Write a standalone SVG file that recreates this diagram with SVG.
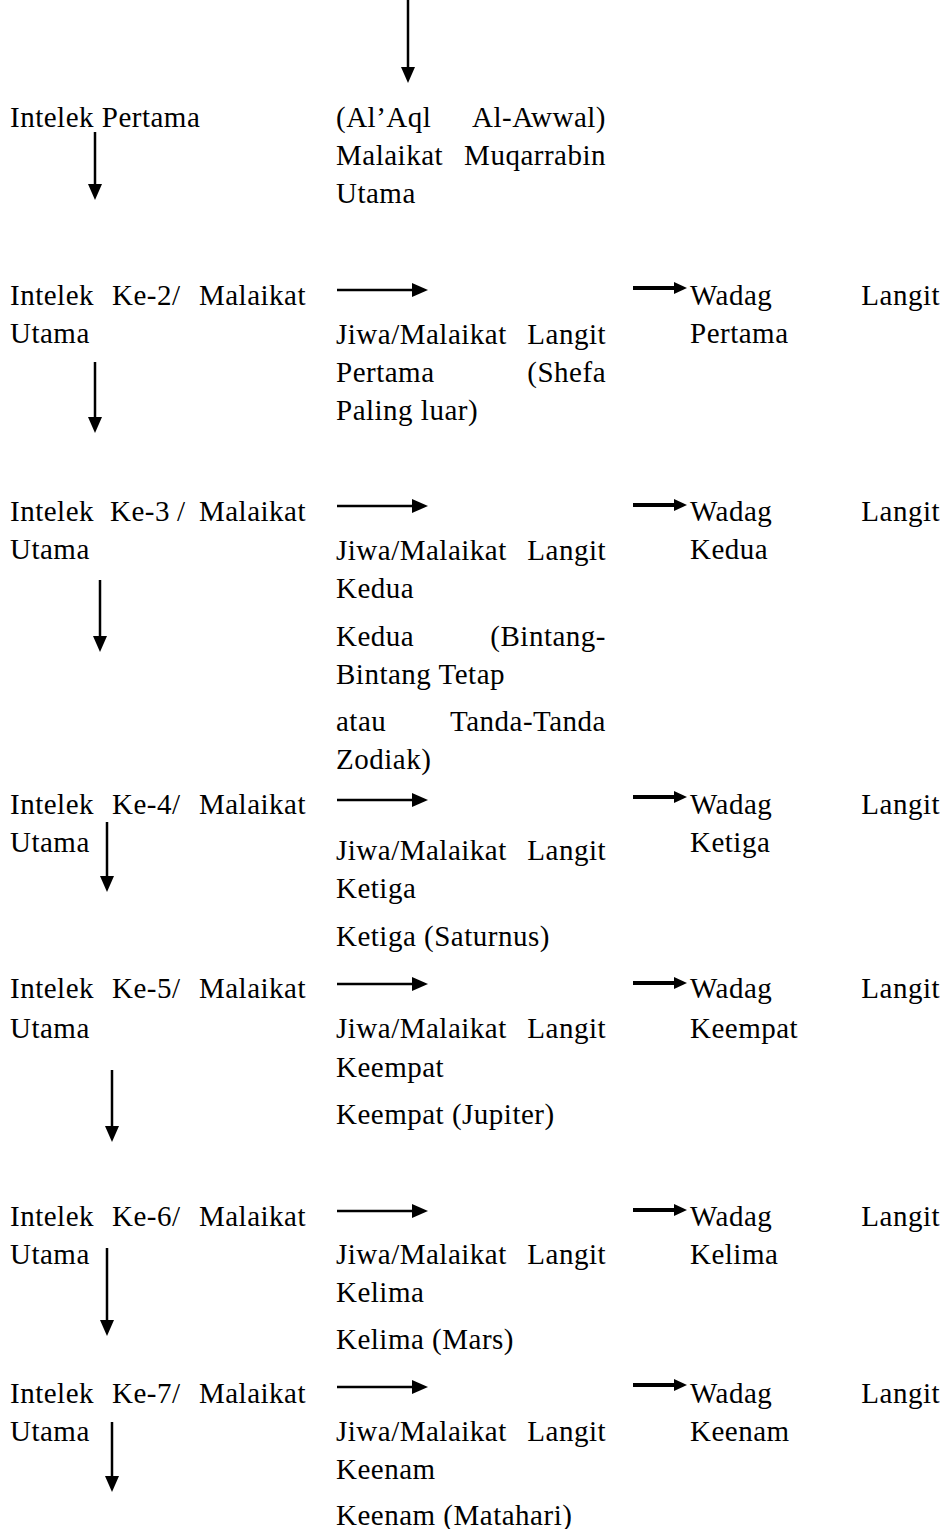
<svg xmlns="http://www.w3.org/2000/svg" width="945" height="1529" viewBox="0 0 945 1529">
  <style>
    .t { font-family: "Liberation Serif", "Times New Roman", serif; font-size: 29px; fill: #000; letter-spacing: 0.5px; }
    .e { text-anchor: end; }
    .ln { stroke: #000; stroke-width: 2.5; fill: none; }
    .lnb { stroke: #000; stroke-width: 4; fill: none; }
  </style>
  <defs>
    <marker id="ah" viewBox="0 0 16 14" refX="8" refY="7" markerWidth="16" markerHeight="14" markerUnits="userSpaceOnUse" orient="auto">
      <path d="M0,0 L16,7 L0,14 Z" fill="#000"/>
    </marker>
    <marker id="ahs" viewBox="0 0 13 12" refX="6" refY="6" markerWidth="13" markerHeight="12" markerUnits="userSpaceOnUse" orient="auto">
      <path d="M0,0 L13,6 L0,12 Z" fill="#000"/>
    </marker>
  </defs>
  <rect width="945" height="1529" fill="#fff"/>

  <!-- connectors -->
  <g id="connectors">
    <!-- incoming arrow at the top -->
    <line class="ln" x1="408" y1="0" x2="408" y2="75" marker-end="url(#ah)"/>
    <!-- vertical arrows down the intellect column -->
    <line class="ln" x1="95" y1="132" x2="95" y2="192" marker-end="url(#ah)"/>
    <line class="ln" x1="95" y1="362" x2="95" y2="425" marker-end="url(#ah)"/>
    <line class="ln" x1="100" y1="580" x2="100" y2="644" marker-end="url(#ah)"/>
    <line class="ln" x1="107" y1="822" x2="107" y2="884" marker-end="url(#ah)"/>
    <line class="ln" x1="112" y1="1070" x2="112" y2="1134" marker-end="url(#ah)"/>
    <line class="ln" x1="107" y1="1248" x2="107" y2="1328" marker-end="url(#ah)"/>
    <line class="ln" x1="112" y1="1422" x2="112" y2="1484" marker-end="url(#ah)"/>
    <!-- intellect to soul -->
    <line class="ln" x1="337" y1="290" x2="420" y2="290" marker-end="url(#ah)"/>
    <line class="ln" x1="337" y1="506" x2="420" y2="506" marker-end="url(#ah)"/>
    <line class="ln" x1="337" y1="800" x2="420" y2="800" marker-end="url(#ah)"/>
    <line class="ln" x1="337" y1="984" x2="420" y2="984" marker-end="url(#ah)"/>
    <line class="ln" x1="337" y1="1211" x2="420" y2="1211" marker-end="url(#ah)"/>
    <line class="ln" x1="337" y1="1387" x2="420" y2="1387" marker-end="url(#ah)"/>
    <!-- soul to body -->
    <line class="lnb" x1="633" y1="288" x2="680" y2="288" marker-end="url(#ahs)"/>
    <line class="lnb" x1="633" y1="505" x2="680" y2="505" marker-end="url(#ahs)"/>
    <line class="lnb" x1="633" y1="797" x2="680" y2="797" marker-end="url(#ahs)"/>
    <line class="lnb" x1="633" y1="983" x2="680" y2="983" marker-end="url(#ahs)"/>
    <line class="lnb" x1="633" y1="1210" x2="680" y2="1210" marker-end="url(#ahs)"/>
    <line class="lnb" x1="633" y1="1385" x2="680" y2="1385" marker-end="url(#ahs)"/>
  </g>

  <!-- intellect column -->
  <g id="intelek-1">
    <text class="t" x="10" y="127">Intelek Pertama</text>
  </g>
  <g id="intelek-2">
    <text class="t" x="10" y="305">Intelek</text>
    <text class="t" x="112" y="305">Ke-2/</text>
    <text class="t e" x="306" y="305">Malaikat</text>
    <text class="t" x="10" y="343">Utama</text>
  </g>
  <g id="intelek-3">
    <text class="t" x="10" y="521">Intelek</text>
    <text class="t" x="110" y="521">Ke-3</text>
    <text class="t" x="177" y="521">/</text>
    <text class="t e" x="306" y="521">Malaikat</text>
    <text class="t" x="10" y="559">Utama</text>
  </g>
  <g id="intelek-4">
    <text class="t" x="10" y="814">Intelek</text>
    <text class="t" x="112" y="814">Ke-4/</text>
    <text class="t e" x="306" y="814">Malaikat</text>
    <text class="t" x="10" y="852">Utama</text>
  </g>
  <g id="intelek-5">
    <text class="t" x="10" y="998">Intelek</text>
    <text class="t" x="112" y="998">Ke-5/</text>
    <text class="t e" x="306" y="998">Malaikat</text>
    <text class="t" x="10" y="1038">Utama</text>
  </g>
  <g id="intelek-6">
    <text class="t" x="10" y="1226">Intelek</text>
    <text class="t" x="112" y="1226">Ke-6/</text>
    <text class="t e" x="306" y="1226">Malaikat</text>
    <text class="t" x="10" y="1264">Utama</text>
  </g>
  <g id="intelek-7">
    <text class="t" x="10" y="1403">Intelek</text>
    <text class="t" x="112" y="1403">Ke-7/</text>
    <text class="t e" x="306" y="1403">Malaikat</text>
    <text class="t" x="10" y="1441">Utama</text>
  </g>

  <!-- soul column -->
  <g id="aql-awwal">
    <text class="t" x="336" y="127">(Al’Aql</text>
    <text class="t e" x="606" y="127">Al-Awwal)</text>
    <text class="t" x="336" y="165">Malaikat</text>
    <text class="t e" x="606" y="165">Muqarrabin</text>
    <text class="t" x="336" y="203">Utama</text>
  </g>
  <g id="jiwa-1">
    <text class="t" x="336" y="344">Jiwa/Malaikat</text>
    <text class="t e" x="606" y="344">Langit</text>
    <text class="t" x="336" y="382">Pertama</text>
    <text class="t e" x="606" y="382">(Shefa</text>
    <text class="t" x="336" y="420">Paling luar)</text>
  </g>
  <g id="jiwa-2">
    <text class="t" x="336" y="560">Jiwa/Malaikat</text>
    <text class="t e" x="606" y="560">Langit</text>
    <text class="t" x="336" y="598">Kedua</text>
    <text class="t" x="336" y="646">Kedua</text>
    <text class="t e" x="606" y="646">(Bintang-</text>
    <text class="t" x="336" y="684">Bintang Tetap</text>
    <text class="t" x="336" y="731">atau</text>
    <text class="t e" x="606" y="731">Tanda-Tanda</text>
    <text class="t" x="336" y="769">Zodiak)</text>
  </g>
  <g id="jiwa-3">
    <text class="t" x="336" y="860">Jiwa/Malaikat</text>
    <text class="t e" x="606" y="860">Langit</text>
    <text class="t" x="336" y="898">Ketiga</text>
    <text class="t" x="336" y="946">Ketiga (Saturnus)</text>
  </g>
  <g id="jiwa-4">
    <text class="t" x="336" y="1038">Jiwa/Malaikat</text>
    <text class="t e" x="606" y="1038">Langit</text>
    <text class="t" x="336" y="1077">Keempat</text>
    <text class="t" x="336" y="1124">Keempat (Jupiter)</text>
  </g>
  <g id="jiwa-5">
    <text class="t" x="336" y="1264">Jiwa/Malaikat</text>
    <text class="t e" x="606" y="1264">Langit</text>
    <text class="t" x="336" y="1302">Kelima</text>
    <text class="t" x="336" y="1349">Kelima (Mars)</text>
  </g>
  <g id="jiwa-6">
    <text class="t" x="336" y="1441">Jiwa/Malaikat</text>
    <text class="t e" x="606" y="1441">Langit</text>
    <text class="t" x="336" y="1479">Keenam</text>
    <text class="t" x="336" y="1525">Keenam (Matahari)</text>
  </g>

  <!-- body column -->
  <g id="wadag-1">
    <text class="t" x="690" y="305">Wadag</text>
    <text class="t e" x="940" y="305">Langit</text>
    <text class="t" x="690" y="343">Pertama</text>
  </g>
  <g id="wadag-2">
    <text class="t" x="690" y="521">Wadag</text>
    <text class="t e" x="940" y="521">Langit</text>
    <text class="t" x="690" y="559">Kedua</text>
  </g>
  <g id="wadag-3">
    <text class="t" x="690" y="814">Wadag</text>
    <text class="t e" x="940" y="814">Langit</text>
    <text class="t" x="690" y="852">Ketiga</text>
  </g>
  <g id="wadag-4">
    <text class="t" x="690" y="998">Wadag</text>
    <text class="t e" x="940" y="998">Langit</text>
    <text class="t" x="690" y="1038">Keempat</text>
  </g>
  <g id="wadag-5">
    <text class="t" x="690" y="1226">Wadag</text>
    <text class="t e" x="940" y="1226">Langit</text>
    <text class="t" x="690" y="1264">Kelima</text>
  </g>
  <g id="wadag-6">
    <text class="t" x="690" y="1403">Wadag</text>
    <text class="t e" x="940" y="1403">Langit</text>
    <text class="t" x="690" y="1441">Keenam</text>
  </g>
</svg>
